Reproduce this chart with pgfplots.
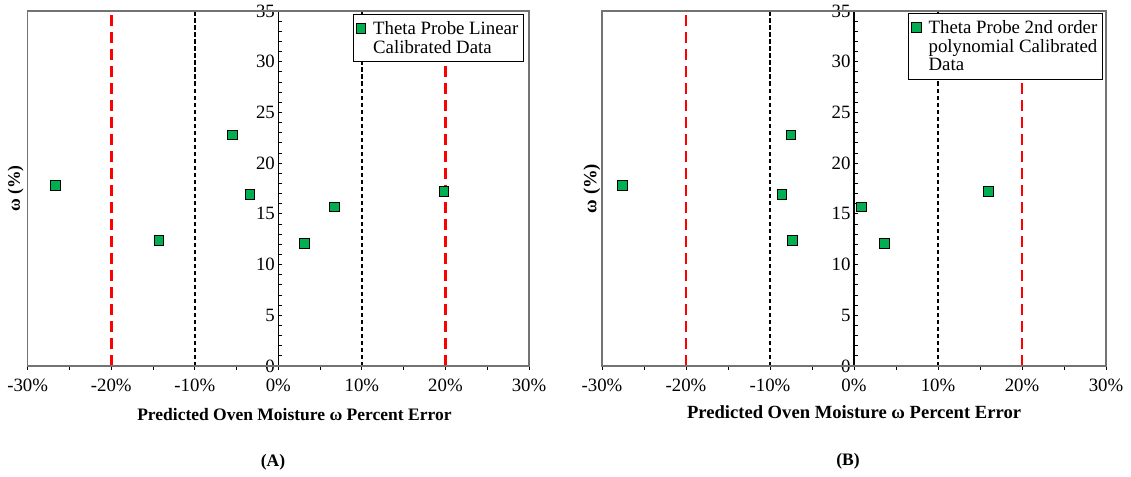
\documentclass[border=0pt]{standalone}
\usepackage{pgfplots}
\pgfplotsset{compat=1.18}
\usepackage{fontspec}
\setmainfont{Liberation Serif}
\definecolor{ptgreen}{RGB}{0,176,80}

\pgfplotsset{
  errpanel/.style={
    scale only axis, height=355pt,
    xmin=-30, xmax=30, ymin=0, ymax=35,
    axis lines=middle,
    axis line style={-, black, line width=1.1pt},
    hide obscured x ticks=false, hide obscured y ticks=false,
    xtick={-30,-20,-10,0,10,20,30},
    xticklabels={-30\%,-20\%,-10\%,0\%,10\%,20\%,30\%},
    minor x tick num=1,
    ytick={0,5,10,15,20,25,30,35},
    minor y tick num=4,
    xtick align=outside, ytick align=inside,
    major tick length=4pt, minor tick length=4pt,
    tick style={black, line width=0.9pt},
    ticklabel style={font=\fontsize{18.8}{22}\selectfont},
    xticklabel style={yshift=-5pt},
    /pgf/number format/assume math mode=true,
    xlabel={\textbf{Predicted Oven Moisture ω Percent Error}},
    ylabel={\textbf{ω (\%)}},
    label style={font=\fontsize{17.5}{21}\selectfont},
    legend image code/.code={\draw[#1] plot coordinates {(4.8pt,0pt)};},
    legend style={anchor=north east, draw=black, line width=0.8pt, fill=white,
      font=\fontsize{18.8}{22}\selectfont, cells={anchor=west},
      nodes={inner sep=2.3pt}, row sep=0pt,
      inner xsep=3pt, inner ysep=4.5pt,
      /tikz/every odd column/.append style={column sep=5pt}},
    clip=false,
  },
  pts/.style={only marks, mark=square*, mark size=4.8pt,
    mark options={fill=ptgreen, draw=black, line width=0.8pt}},
  redlim/.style={forget plot, red, line width=2.6pt, dash pattern=on 11pt off 6pt},
  blklim/.style={forget plot, black, line width=1.5pt, dash pattern=on 4.5pt off 2.5pt},
}

\begin{document}
\begin{tikzpicture}
\useasboundingbox (0pt,0pt) rectangle (1131pt,-476pt);

% (A) linear calibration
\begin{axis}[errpanel, width=501.3pt, at={(27.7pt,-366pt)}, anchor=south west,
  xlabel style={at={(axis description cs:0.532,0)}, anchor=base, yshift=-54pt},
  ylabel style={at={(axis description cs:-0.024,0.5)}, anchor=center, rotate=90},
  legend style={at={(rel axis cs:0.990,0.9915)}}]
\addplot[redlim] coordinates {(-20,0) (-20,35)};
\addplot[redlim] coordinates {(20,0) (20,35)};
\addplot[blklim] coordinates {(-10,0) (-10,35)};
\addplot[blklim] coordinates {(10,0) (10,35)};
\addplot[pts] table {
  -26.7  17.8
  -14.3  12.4
   -5.5  22.8
   -3.4  16.9
    3.1  12.1
    6.7  15.7
   19.8  17.2
};
\addlegendentry{Theta Probe Linear}
\addlegendimage{empty legend}
\addlegendentry{Calibrated Data}
\draw[black!55, line width=1.1pt] (rel axis cs:0,0) rectangle (rel axis cs:1,1);
\end{axis}

% (B) 2nd order polynomial calibration
\begin{axis}[errpanel, width=504pt, at={(602pt,-366pt)}, anchor=south west,
  label style={font=\fontsize{18.6}{22}\selectfont},
  xlabel style={at={(axis description cs:0.5,0)}, anchor=base, yshift=-52pt},
  ylabel style={at={(axis description cs:-0.020,0.5)}, anchor=center, rotate=90},
  legend style={at={(rel axis cs:0.994,0.994)}}]
\addplot[redlim] coordinates {(-20,0) (-20,35)};
\addplot[redlim] coordinates {(20,0) (20,35)};
\addplot[blklim] coordinates {(-10,0) (-10,35)};
\addplot[blklim] coordinates {(10,0) (10,35)};
\addplot[pts] table {
  -27.6  17.8
   -8.6  16.9
   -7.5  22.8
   -7.3  12.4
    0.9  15.7
    3.6  12.1
   16.0  17.2
};
\addlegendentry{Theta Probe 2nd order}
\addlegendimage{empty legend}
\addlegendentry{polynomial Calibrated}
\addlegendimage{empty legend}
\addlegendentry{Data}
\draw[black!55, line width=1.1pt] (rel axis cs:0,0) rectangle (rel axis cs:1,1);
\end{axis}

\node[font=\fontsize{17.5}{21}\selectfont\bfseries] at (273pt,-462pt) {(A)};
\node[font=\fontsize{17.5}{21}\selectfont\bfseries] at (848pt,-461pt) {(B)};
\end{tikzpicture}
\end{document}
